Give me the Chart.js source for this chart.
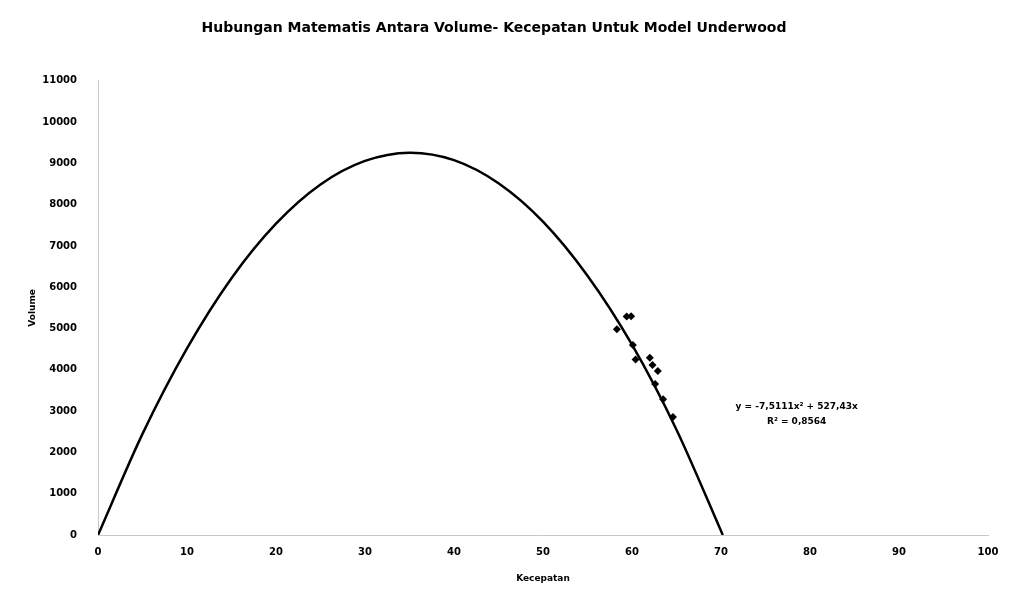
<!DOCTYPE html>
<html>
<head>
<meta charset="utf-8">
<script src="https://cdn.jsdelivr.net/npm/chart.js@4/dist/chart.umd.min.js"></script>
<style>
html, body { margin: 0; padding: 0; background: #fff; }
#wrap { width: 1009px; height: 601px; position: relative; }
</style>
</head>
<body>
<div id="wrap"><canvas id="volChart" width="1009" height="601"></canvas></div>
<script>
// observed speed / volume points
let speedObs = [59.4, 59.9, 58.3, 60.1, 60.4, 62.0, 62.3, 62.9, 62.6, 63.5, 64.6];
let volumeObs = [5290, 5300, 4980, 4600, 4250, 4290, 4120, 3970, 3660, 3290, 2860];

// polynomial trendline
let speedFit = [0, 5, 10, 15, 20, 25, 30, 35, 40, 45, 50, 55, 60, 65, 70.2];
let volumeFit = [0, 2450, 4520, 6220, 7540, 8490, 9060, 9260, 9080, 8520, 7590, 6280, 4610, 2550, 0];

let xTicks = [0, 10, 20, 30, 40, 50, 60, 70, 80, 90, 100];
let yTicks = [0, 1000, 2000, 3000, 4000, 5000, 6000, 7000, 8000, 9000, 10000, 11000];

let eqLine1 = 'y = -7,5111x\u00B2 + 527,43x';
let eqLine2 = 'R\u00B2 = 0,8564';

const fontFam = '"DejaVu Sans", Verdana, sans-serif';

function pairs(xs, ys) {
  return xs.map((x, i) => ({ x: x, y: ys[i] }));
}

// writes the trendline equation next to the curve
const equationLabel = {
  id: 'equationLabel',
  afterDatasetsDraw(chart) {
    const c = chart.ctx;
    const xs = chart.scales.x;
    const ys = chart.scales.y;
    c.save();
    c.fillStyle = '#000';
    c.font = 'bold 9px ' + fontFam;
    c.textAlign = 'center';
    c.textBaseline = 'middle';
    c.fillText(eqLine1, xs.getPixelForValue(78.5), ys.getPixelForValue(3100));
    c.fillText(eqLine2, xs.getPixelForValue(78.5), ys.getPixelForValue(2750));
    c.restore();
  }
};

let ctx = document.getElementById('volChart').getContext('2d');

let volChart = new Chart(ctx, {
  type: 'scatter',
  data: {
    datasets: [{
      label: 'Trendline',
      data: pairs(speedFit, volumeFit),
      showLine: true,
      borderColor: '#000',
      borderWidth: 2.5,
      pointRadius: 0,
      tension: 0.3,
      fill: false
    }, {
      label: 'Data',
      data: pairs(speedObs, volumeObs),
      pointStyle: 'rectRot',
      pointRadius: 4,
      backgroundColor: '#000',
      borderColor: '#000',
      borderWidth: 0
    }]
  },
  options: {
    responsive: false,
    animation: false,
    layout: { padding: { left: 0, right: 21, top: 0, bottom: 0 } },
    plugins: {
      legend: { display: false },
      tooltip: { enabled: false },
      title: {
        display: true,
        text: 'Hubungan Matematis Antara Volume- Kecepatan Untuk Model Underwood',
        color: '#000',
        font: { family: fontFam, size: 14, weight: 'bold' },
        padding: { top: 20, bottom: 44 }
      }
    },
    scales: {
      x: {
        type: 'linear',
        min: 0,
        max: 100,
        afterBuildTicks: (s) => { s.ticks = xTicks.map(v => ({ value: v })); },
        afterFit: (s) => { s.height = 66; },
        grid: { display: false },
        border: { display: true, color: '#c8c8c8', dash: [2, 3] },
        ticks: { color: '#000', padding: 3, font: { family: fontFam, size: 10, weight: 'bold' } },
        title: {
          display: true,
          text: 'Kecepatan',
          color: '#000',
          padding: { top: 0, bottom: 17 },
          font: { family: fontFam, size: 9, weight: 'bold' }
        }
      },
      y: {
        type: 'linear',
        min: 0,
        max: 11000,
        afterBuildTicks: (s) => { s.ticks = yTicks.map(v => ({ value: v })); },
        afterFit: (s) => { s.width = 98; },
        grid: { display: false },
        border: { display: true, color: '#c8c8c8', dash: [2, 3] },
        ticks: {
          color: '#000',
          padding: 13,
          font: { family: fontFam, size: 10, weight: 'bold' },
          callback: (v) => String(v)
        },
        title: {
          display: true,
          text: 'Volume',
          color: '#000',
          padding: { top: 27, bottom: 0 },
          font: { family: fontFam, size: 9, weight: 'bold' }
        }
      }
    }
  },
  plugins: [equationLabel]
});
</script>
</body>
</html>
